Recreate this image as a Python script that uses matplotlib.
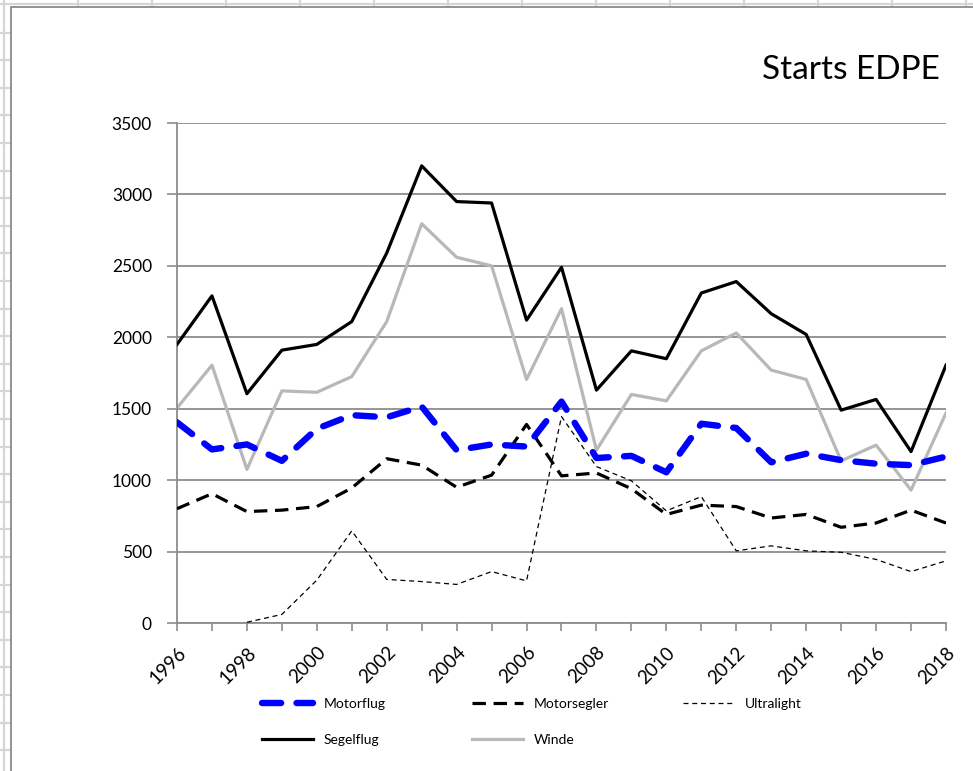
import matplotlib
matplotlib.use("Agg")
import matplotlib.pyplot as plt
from matplotlib.lines import Line2D
from matplotlib.patches import Rectangle

plt.rcParams['font.family'] = ['Lato', 'DejaVu Sans']

years = list(range(1996, 2019))

motorflug = [1405, 1215, 1250, 1135, 1360, 1455, 1440, 1515, 1210, 1250, 1235,
             1550, 1155, 1170, 1055, 1395, 1365, 1125, 1185, 1140, 1115, 1105, 1165]
motorsegler = [800, 905, 780, 790, 815, 945, 1150, 1105, 950, 1035, 1390,
               1030, 1050, 940, 760, 825, 815, 735, 760, 670, 700, 790, 700]
ultralight_years = list(range(1998, 2019))
ultralight = [5, 60, 300, 645, 305, 290, 270, 360, 295,
              1445, 1095, 995, 785, 885, 505, 540, 505, 495, 445, 360, 435]
segelflug = [1950, 2290, 1605, 1910, 1950, 2110, 2590, 3200, 2950, 2940, 2120,
             2490, 1630, 1905, 1850, 2310, 2390, 2165, 2020, 1490, 1565, 1200, 1805]
winde = [1505, 1805, 1075, 1625, 1615, 1725, 2110, 2795, 2560, 2500, 1705,
         2200, 1210, 1600, 1555, 1905, 2030, 1770, 1705, 1135, 1245, 930, 1470]

y_ticks = [0, 500, 1000, 1500, 2000, 2500, 3000, 3500]

W, H = 973, 771
fig = plt.figure(figsize=(W / 100, H / 100), dpi=100)

# worksheet grid behind the chart object
sheet = dict(color='#d6d6d6', lw=1.6, zorder=-2)
fig.add_artist(Line2D([4 / W, 4 / W], [0, 1], transform=fig.transFigure, **sheet))
fig.add_artist(Line2D([0, 1], [1 - 4 / H, 1 - 4 / H], transform=fig.transFigure, **sheet))
for x in range(78, W, 74):
    fig.add_artist(Line2D([x / W, x / W], [1 - 6 / H, 1], transform=fig.transFigure, **sheet))
y = 32.5
while y < H:
    fig.add_artist(Line2D([0, 10 / W], [1 - y / H, 1 - y / H], transform=fig.transFigure, **sheet))
    y += 27.6

# chart object frame
fig.add_artist(Rectangle((10.5 / W, -0.05), 1.2, 1 - 7 / H + 0.05, transform=fig.transFigure,
                         facecolor='white', edgecolor='#8a8a8a', lw=1.3, zorder=-1))

ax = fig.add_axes([177 / W, 1 - 623 / H, (946 - 177) / W, 500 / H])
ax.set_zorder(2)
ax.set_facecolor('none')
ax.set_xlim(1996, 2018)
ax.set_ylim(0, 3500)

grid_c = '#8c8c8c'
ax.set_yticks(y_ticks)
ax.yaxis.grid(True, color=grid_c, lw=1.3)
ax.set_axisbelow(True)
ax.set_xticks(years)
ax.set_xticklabels([str(y) if y % 2 == 0 else '' for y in years],
                   rotation=45, ha='right', va='top', rotation_mode='anchor')
ax.tick_params(axis='x', length=6, width=1.2, color=grid_c, pad=9, labelsize=13.5)
ax.tick_params(axis='y', length=7, width=1.2, color=grid_c, pad=11, labelsize=12.5)
for s in ['top', 'right']:
    ax.spines[s].set_visible(False)
for s in ['left', 'bottom']:
    ax.spines[s].set_color(grid_c)
    ax.spines[s].set_linewidth(1.3)

l_seg, = ax.plot(years, segelflug, color='black', lw=2.3, label='Segelflug', zorder=3)
l_win, = ax.plot(years, winde, color='#b8b8b8', lw=2.3, label='Winde', zorder=2)
l_ms, = ax.plot(years, motorsegler, color='black', lw=2.3, label='Motorsegler', zorder=4,
                dashes=(4.2, 2.4))
l_ul, = ax.plot(ultralight_years, ultralight, color='black', lw=0.9, label='Ultralight',
                zorder=4, dashes=(4, 3))
l_mf, = ax.plot(years, motorflug, color='#0000ff', lw=4.6, label='Motorflug', zorder=5,
                dashes=(3.0, 2.4), dash_capstyle='round')

fig.text(940 / W, 1 - 70 / H, 'Starts EDPE', ha='right', va='center', fontsize=24)

leg_kw = dict(frameon=False, fontsize=10, handlelength=3.7, handletextpad=0.75,
              labelspacing=1.75, borderpad=0, borderaxespad=0, loc='upper left')
fig.legend(handles=[l_mf, l_seg], bbox_to_anchor=(262 / W, 1 - 698 / H), **leg_kw)
fig.legend(handles=[l_ms, l_win], bbox_to_anchor=(472 / W, 1 - 698 / H), **leg_kw)
fig.legend(handles=[l_ul], bbox_to_anchor=(683 / W, 1 - 698 / H), **leg_kw)

fig.savefig('out.png', dpi=100)
